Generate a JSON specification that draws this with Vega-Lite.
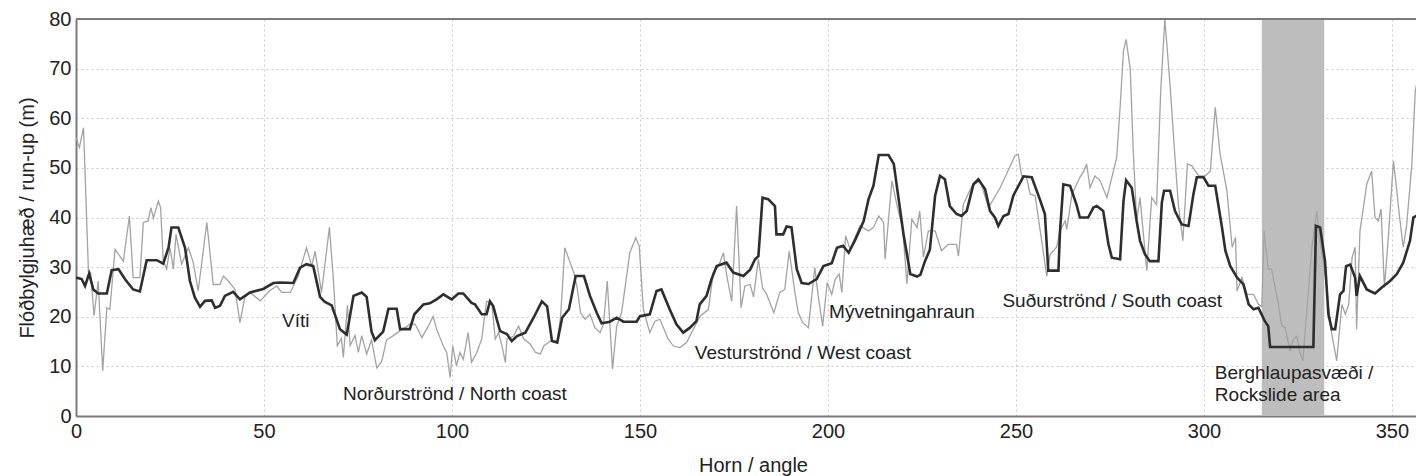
{
  "$schema": "https://vega.github.io/schema/vega-lite/v6.json",
  "width": 1340,
  "height": 397,
  "autosize": {"type": "none"},
  "padding": {"left": 76, "top": 19, "right": 0, "bottom": 60},
  "background": "white",
  "config": {
    "view": {"stroke": null},
    "font": "Liberation Sans",
    "axis": {
      "labelFont": "Liberation Sans",
      "titleFont": "Liberation Sans",
      "labelFontSize": 20,
      "titleFontSize": 20,
      "titleFontWeight": "normal",
      "labelColor": "#222",
      "titleColor": "#222",
      "domainColor": "#7a7a7a",
      "domainWidth": 2,
      "ticks": false,
      "grid": true,
      "gridColor": "#c8c8c8",
      "gridDash": [2, 3],
      "gridWidth": 1
    }
  },
  "datasets": {
    "smooth": [
      {"a":0,"v":27.9},{"a":1.5,"v":27.6},{"a":2.4,"v":26.2},{"a":3.5,"v":28.7},{"a":4.6,"v":25.5},{"a":5.9,"v":24.7},{"a":8.2,"v":24.7},{"a":9.5,"v":29.4},{"a":11.3,"v":29.6},{"a":13,"v":27.6},{"a":15.2,"v":25.5},{"a":17,"v":25.1},{"a":18.8,"v":31.4},{"a":21.5,"v":31.4},{"a":23.2,"v":30.7},{"a":24.6,"v":33.9},{"a":25.4,"v":38},{"a":27.2,"v":38},{"a":29,"v":33.9},{"a":30.3,"v":27.2},{"a":31.6,"v":23.9},{"a":33,"v":22},{"a":34.3,"v":23.2},{"a":36.1,"v":23.3},{"a":37,"v":21.8},{"a":38.3,"v":22.2},{"a":39.6,"v":24.2},{"a":41.8,"v":25},{"a":43.6,"v":23.5},{"a":46.3,"v":24.9},{"a":49.8,"v":25.6},{"a":52.5,"v":26.8},{"a":54.2,"v":26.9},{"a":57.8,"v":26.8},{"a":59.6,"v":29.9},{"a":61.3,"v":30.6},{"a":63.1,"v":30.2},{"a":64.9,"v":24},{"a":66.2,"v":23},{"a":68,"v":22.3},{"a":70.2,"v":17.5},{"a":72,"v":16.4},{"a":73.8,"v":24.2},{"a":76,"v":24.9},{"a":77.3,"v":24},{"a":78.6,"v":17},{"a":79.5,"v":15.3},{"a":81.7,"v":17},{"a":83.1,"v":21.6},{"a":85.3,"v":21.6},{"a":86.2,"v":17.5},{"a":88.8,"v":17.5},{"a":90,"v":20.5},{"a":92.4,"v":22.5},{"a":94.1,"v":22.7},{"a":95.9,"v":23.5},{"a":97.7,"v":24.5},{"a":99.9,"v":23.5},{"a":101.7,"v":24.7},{"a":103,"v":24.7},{"a":105.2,"v":22.8},{"a":106.1,"v":22.5},{"a":107.9,"v":20.5},{"a":109.2,"v":20.5},{"a":110.1,"v":23.1},{"a":111,"v":22.1},{"a":111.9,"v":19.5},{"a":112.8,"v":17.1},{"a":114.6,"v":16.5},{"a":115.9,"v":15.1},{"a":117.3,"v":16.1},{"a":119.5,"v":16.8},{"a":121.7,"v":19.8},{"a":123.9,"v":23.1},{"a":125.3,"v":22.1},{"a":126.6,"v":15.1},{"a":128,"v":14.8},{"a":129.3,"v":19.8},{"a":131.1,"v":21.5},{"a":132.9,"v":28.2},{"a":135.1,"v":28.2},{"a":136.7,"v":24.2},{"a":138.5,"v":20.8},{"a":139.8,"v":18.7},{"a":142,"v":19},{"a":143.8,"v":19.8},{"a":145.6,"v":19},{"a":149.1,"v":19},{"a":150,"v":20.1},{"a":152.6,"v":20.5},{"a":154.4,"v":25.2},{"a":155.7,"v":25.5},{"a":157.9,"v":21.5},{"a":159.7,"v":18.5},{"a":161.5,"v":16.8},{"a":163.3,"v":17.8},{"a":165,"v":19.1},{"a":165.9,"v":22.5},{"a":167.7,"v":24.2},{"a":169,"v":27.5},{"a":170.4,"v":30.2},{"a":173,"v":30.9},{"a":174.8,"v":28.9},{"a":177.5,"v":28.2},{"a":179.3,"v":29.5},{"a":180.6,"v":31.6},{"a":181.5,"v":32.2},{"a":182.6,"v":44},{"a":184.1,"v":43.7},{"a":185.9,"v":42.3},{"a":186.3,"v":36.6},{"a":188.1,"v":36.6},{"a":189,"v":38.2},{"a":190.3,"v":38},{"a":191.7,"v":29.6},{"a":193,"v":26.8},{"a":194.8,"v":26.6},{"a":197,"v":27.6},{"a":198.8,"v":30.2},{"a":201,"v":30.8},{"a":202.4,"v":33.9},{"a":204,"v":34.3},{"a":205.5,"v":32.9},{"a":207.3,"v":35.6},{"a":209.5,"v":39.3},{"a":210.8,"v":43.7},{"a":212.1,"v":46.4},{"a":213.5,"v":52.6},{"a":216.1,"v":52.6},{"a":217.5,"v":50.8},{"a":218.8,"v":43.7},{"a":220.1,"v":36.6},{"a":221.9,"v":28.6},{"a":223.7,"v":28.1},{"a":224.6,"v":28.5},{"a":225.8,"v":31.2},{"a":227.1,"v":33.5},{"a":228.5,"v":44.4},{"a":229.8,"v":48.4},{"a":231.1,"v":47.7},{"a":232.4,"v":42.3},{"a":234.2,"v":40.7},{"a":235.5,"v":40.3},{"a":236.9,"v":41.3},{"a":238.7,"v":46.7},{"a":240,"v":47.7},{"a":241.8,"v":45.7},{"a":243.1,"v":41.3},{"a":244.4,"v":40},{"a":245.3,"v":38.3},{"a":246.7,"v":40.3},{"a":248,"v":40.7},{"a":249.3,"v":44.4},{"a":252,"v":48.3},{"a":254.2,"v":48.1},{"a":256,"v":44.4},{"a":257.7,"v":40.7},{"a":258.6,"v":29.3},{"a":261.3,"v":29.3},{"a":261.7,"v":37},{"a":262.6,"v":46.7},{"a":264.4,"v":46.4},{"a":266.1,"v":42.6},{"a":267,"v":40},{"a":269.2,"v":40},{"a":270.6,"v":42},{"a":271.5,"v":42.3},{"a":273.2,"v":41.3},{"a":274.6,"v":34.6},{"a":275.5,"v":31.9},{"a":277.7,"v":31.6},{"a":278.6,"v":43.3},{"a":279.3,"v":47.5},{"a":280.8,"v":46},{"a":282.1,"v":39.3},{"a":283,"v":35.3},{"a":284.3,"v":32.6},{"a":285.6,"v":31.2},{"a":287.9,"v":31.2},{"a":288.8,"v":43},{"a":289.4,"v":45.4},{"a":291,"v":45.4},{"a":292.3,"v":41.3},{"a":294.1,"v":38.6},{"a":295.9,"v":38.3},{"a":297.2,"v":44.7},{"a":298.1,"v":48.1},{"a":299.9,"v":48.1},{"a":301.2,"v":46.4},{"a":303,"v":46.4},{"a":304.8,"v":38},{"a":305.7,"v":33.3},{"a":307,"v":30.2},{"a":308.8,"v":27.9},{"a":310.5,"v":26.5},{"a":311.9,"v":22.5},{"a":313.2,"v":21.5},{"a":314.5,"v":21.8},{"a":316.2,"v":19.1},{"a":317.1,"v":18.1},{"a":317.6,"v":13.9},{"a":329.1,"v":13.9},{"a":329.8,"v":38.3},{"a":330.9,"v":38},{"a":332.2,"v":31.2},{"a":333.1,"v":20.5},{"a":334,"v":17.5},{"a":334.9,"v":17.5},{"a":336.2,"v":24.5},{"a":337.1,"v":25.2},{"a":337.8,"v":30.2},{"a":338.9,"v":30.5},{"a":340.2,"v":27.9},{"a":340.6,"v":24.2},{"a":341.5,"v":28.2},{"a":343.3,"v":25.5},{"a":345.5,"v":24.7},{"a":347.3,"v":25.9},{"a":349.5,"v":27.2},{"a":351.3,"v":28.6},{"a":353,"v":30.9},{"a":354.8,"v":35.3},{"a":355.7,"v":40},{"a":356.4,"v":40.3},{"a":360,"v":40.5}
    ],
    "raw": [
      {"a":0,"v":56.1},{"a":0.9,"v":54.1},{"a":2,"v":58.1},{"a":3.3,"v":29.2},{"a":3.9,"v":28.9},{"a":4.8,"v":20.2},{"a":5.9,"v":27.2},{"a":7.1,"v":9.1},{"a":8.2,"v":21.8},{"a":9,"v":21.5},{"a":10.4,"v":33.6},{"a":12.6,"v":31.2},{"a":14.2,"v":40.3},{"a":15.2,"v":27.9},{"a":17,"v":27.9},{"a":17.9,"v":39},{"a":19.2,"v":39.3},{"a":19.9,"v":42},{"a":20.6,"v":39.9},{"a":21.9,"v":43.3},{"a":22.5,"v":42},{"a":23.2,"v":31.3},{"a":24.1,"v":29.6},{"a":25,"v":33.9},{"a":25.9,"v":29.6},{"a":26.6,"v":36.6},{"a":28.1,"v":30.6},{"a":29.9,"v":33.9},{"a":31.2,"v":30.9},{"a":32.5,"v":25.2},{"a":34.8,"v":39},{"a":36.5,"v":26.5},{"a":38.3,"v":26.5},{"a":39.2,"v":28.2},{"a":40.5,"v":27.2},{"a":42.3,"v":25.5},{"a":43.6,"v":18.8},{"a":44.9,"v":23.9},{"a":46.3,"v":24.9},{"a":49,"v":23.2},{"a":51.6,"v":25.3},{"a":53.4,"v":26.2},{"a":54.7,"v":24.9},{"a":57,"v":24.9},{"a":59.1,"v":28.2},{"a":61.3,"v":33.9},{"a":62.7,"v":30.2},{"a":63.6,"v":33.2},{"a":65.3,"v":24.9},{"a":67.4,"v":38},{"a":68.4,"v":28.2},{"a":69.5,"v":14.2},{"a":70.6,"v":15.6},{"a":71.1,"v":11.8},{"a":72.2,"v":22.3},{"a":72.9,"v":14.2},{"a":74.2,"v":16.2},{"a":75.1,"v":12.8},{"a":76,"v":16.2},{"a":77.3,"v":12.5},{"a":78.6,"v":15.3},{"a":80,"v":9.7},{"a":81.3,"v":11},{"a":82.6,"v":15.3},{"a":84.4,"v":16.2},{"a":86.2,"v":17.2},{"a":87.5,"v":17.8},{"a":88.8,"v":18.5},{"a":90.2,"v":18.5},{"a":92,"v":15.8},{"a":93.7,"v":18.1},{"a":95,"v":20.1},{"a":95.9,"v":17.5},{"a":97.7,"v":14.1},{"a":98.6,"v":12.8},{"a":99.5,"v":7.8},{"a":100.2,"v":14.1},{"a":101.2,"v":10.1},{"a":102.1,"v":12.8},{"a":103,"v":11.4},{"a":104.3,"v":16.8},{"a":105.2,"v":10.8},{"a":106.6,"v":12.8},{"a":107.9,"v":15.5},{"a":109.2,"v":23.1},{"a":110.6,"v":22.8},{"a":111.5,"v":15.5},{"a":112.4,"v":16.8},{"a":113.3,"v":14.1},{"a":114.2,"v":10.8},{"a":114.6,"v":15.5},{"a":116.4,"v":16.1},{"a":117.7,"v":18.1},{"a":119.1,"v":15.5},{"a":120.8,"v":14.5},{"a":122.2,"v":12.8},{"a":123.5,"v":12.5},{"a":124.4,"v":14.1},{"a":126.2,"v":15.1},{"a":128,"v":15.1},{"a":128.9,"v":20.1},{"a":130,"v":33.9},{"a":132.4,"v":28.9},{"a":133.3,"v":25.8},{"a":134.2,"v":20.8},{"a":135.4,"v":19.5},{"a":136.7,"v":20.5},{"a":138,"v":17.8},{"a":139.4,"v":16.8},{"a":140.3,"v":18.5},{"a":141.3,"v":27.2},{"a":142.7,"v":9.5},{"a":143.8,"v":18.1},{"a":145.1,"v":20.8},{"a":147.3,"v":32.9},{"a":148.9,"v":35.9},{"a":149.8,"v":34.2},{"a":150.9,"v":21.5},{"a":152.6,"v":16.8},{"a":154,"v":19.1},{"a":155.3,"v":19.5},{"a":157.5,"v":15.5},{"a":158.9,"v":14.1},{"a":160.6,"v":13.8},{"a":162.4,"v":14.8},{"a":164.2,"v":17.5},{"a":166,"v":20.1},{"a":168.2,"v":21.5},{"a":169.5,"v":28.9},{"a":170.9,"v":30.2},{"a":172.2,"v":32.9},{"a":173.1,"v":28.2},{"a":174.4,"v":23.1},{"a":175.7,"v":42.3},{"a":176.9,"v":21.8},{"a":177.9,"v":26.2},{"a":179.3,"v":26.5},{"a":180.2,"v":24},{"a":181.5,"v":31.6},{"a":182.6,"v":25.8},{"a":183.7,"v":24.5},{"a":185.6,"v":20.8},{"a":187.2,"v":24.9},{"a":188.5,"v":25.5},{"a":189.7,"v":33.2},{"a":191.2,"v":24.9},{"a":192.1,"v":20.8},{"a":193.3,"v":18.8},{"a":194.8,"v":17.8},{"a":195.7,"v":24.2},{"a":196.5,"v":29.9},{"a":197.4,"v":24.2},{"a":198.6,"v":18.1},{"a":199.8,"v":26.9},{"a":201,"v":24.5},{"a":201.9,"v":27.5},{"a":203,"v":28.6},{"a":203.7,"v":24.9},{"a":204.7,"v":36.3},{"a":205.9,"v":33.6},{"a":208.5,"v":38.3},{"a":210.8,"v":37.3},{"a":212.1,"v":38},{"a":213.5,"v":40.3},{"a":214.8,"v":39},{"a":215.2,"v":31.6},{"a":217,"v":47.4},{"a":218.4,"v":42.3},{"a":219.9,"v":37.6},{"a":221,"v":26.6},{"a":222.3,"v":39.6},{"a":223.7,"v":38},{"a":224.4,"v":41.3},{"a":225.4,"v":32},{"a":226.7,"v":37.3},{"a":228.5,"v":37.3},{"a":230.2,"v":33.3},{"a":232,"v":34.6},{"a":234.2,"v":34.6},{"a":234.7,"v":32.2},{"a":236,"v":42.6},{"a":238.3,"v":46.4},{"a":240.5,"v":47.4},{"a":242.7,"v":42},{"a":245.8,"v":46},{"a":249.7,"v":52.4},{"a":250.6,"v":52.8},{"a":251.5,"v":48.4},{"a":252.8,"v":48.1},{"a":253.8,"v":44.7},{"a":255.1,"v":44.4},{"a":258.2,"v":28.2},{"a":259.1,"v":32.6},{"a":260.8,"v":34},{"a":261.7,"v":37.3},{"a":263.1,"v":39.3},{"a":263.5,"v":37.6},{"a":264.9,"v":44.7},{"a":267,"v":48.1},{"a":268.1,"v":49.4},{"a":268.8,"v":50.8},{"a":269.7,"v":46},{"a":271,"v":48.4},{"a":272.4,"v":47.4},{"a":274.2,"v":44},{"a":276.8,"v":52.1},{"a":277.7,"v":62.2},{"a":278.6,"v":73.6},{"a":279.3,"v":75.9},{"a":280.4,"v":69.9},{"a":281.2,"v":53.4},{"a":282.1,"v":39.3},{"a":283,"v":44},{"a":283.9,"v":36.6},{"a":284.8,"v":29.3},{"a":286.1,"v":44},{"a":287.4,"v":42.6},{"a":288.5,"v":65.5},{"a":289.6,"v":80},{"a":291,"v":66.5},{"a":292.3,"v":52.1},{"a":293.2,"v":42.6},{"a":294.4,"v":35.3},{"a":295.6,"v":50.8},{"a":296.8,"v":50.4},{"a":298.6,"v":48.4},{"a":300.4,"v":48.4},{"a":301.7,"v":49.4},{"a":303,"v":62.2},{"a":304.3,"v":52.8},{"a":306.1,"v":45.4},{"a":307.5,"v":34},{"a":308.4,"v":36},{"a":308.8,"v":25.2},{"a":310.1,"v":27.9},{"a":311.5,"v":24.5},{"a":313.2,"v":24.5},{"a":314.5,"v":22.5},{"a":315.4,"v":22},{"a":316,"v":37.3},{"a":317.1,"v":29.6},{"a":318,"v":29.6},{"a":319.8,"v":22.5},{"a":320.7,"v":18.1},{"a":321.6,"v":17.8},{"a":322.9,"v":13.1},{"a":323.8,"v":15.4},{"a":324.7,"v":16.1},{"a":325.5,"v":12.8},{"a":326.3,"v":11.1},{"a":327.3,"v":20.5},{"a":328.7,"v":34},{"a":330,"v":41.3},{"a":330.9,"v":35.3},{"a":332.2,"v":28.6},{"a":334,"v":16.5},{"a":335.3,"v":11.1},{"a":336.7,"v":22.5},{"a":337.6,"v":20.5},{"a":338.5,"v":22.5},{"a":339.4,"v":31.9},{"a":340.2,"v":34},{"a":340.6,"v":17.5},{"a":341.5,"v":37.3},{"a":342.4,"v":42},{"a":343.3,"v":46.7},{"a":344.6,"v":49.4},{"a":345.5,"v":40},{"a":346.4,"v":39.3},{"a":347.1,"v":41.7},{"a":348,"v":25.9},{"a":349.1,"v":36.6},{"a":350.4,"v":51.4},{"a":351.3,"v":45.4},{"a":352,"v":40.3},{"a":353,"v":34},{"a":353.9,"v":38.3},{"a":355.3,"v":50.8},{"a":356.2,"v":65.5},{"a":358,"v":72}
    ],
    "labels": [
      {"a":54.8,"v":19.1,"t":"Víti"},
      {"a":71,"v":4.4,"t":"Norðurströnd / North coast"},
      {"a":164.6,"v":12.6,"t":"Vesturströnd / West coast"},
      {"a":200.3,"v":21.0,"t":"Mývetningahraun"},
      {"a":246.4,"v":23.2,"t":"Suðurströnd / South coast"},
      {"a":302.9,"v":8.7,"t":"Berghlaupasvæði /"},
      {"a":302.9,"v":4.2,"t":"Rockslide area"}
    ],
    "zone": [{"a0":315.4,"a1":332}]
  },
  "layer": [
    {
      "data": {"name": "zone"},
      "mark": {"type": "rect", "color": "#bdbdbd", "clip": true},
      "encoding": {
        "x": {"field": "a0", "type": "quantitative",
              "scale": {"domain": [0, 356.4], "nice": false, "zero": false},
              "axis": {"values": [0,50,100,150,200,250,300,350], "title": "Horn / angle",
                       "labelPadding": 5, "titlePadding": 14, "titleX": 677, "labelFlush": false}},
        "x2": {"field": "a1"},
        "y": {"datum": 0, "type": "quantitative",
              "scale": {"domain": [0, 80], "nice": false},
              "axis": {"values": [0,10,20,30,40,50,60,70,80], "title": "Flóðbylgjuhæð / run-up (m)",
                       "labelPadding": 5, "titlePadding": 11, "labelFlush": false}},
        "y2": {"datum": 80}
      }
    },
    {
      "data": {"name": "raw"},
      "mark": {"type": "line", "color": "#a3a3a3", "strokeWidth": 1.3, "clip": true},
      "encoding": {
        "x": {"field": "a", "type": "quantitative"},
        "y": {"field": "v", "type": "quantitative"}
      }
    },
    {
      "data": {"name": "smooth"},
      "mark": {"type": "line", "color": "#2e2e2e", "strokeWidth": 2.6, "clip": true},
      "encoding": {
        "x": {"field": "a", "type": "quantitative"},
        "y": {"field": "v", "type": "quantitative"}
      }
    },
    {
      "data": {"values": [{"top": 80}]},
      "mark": {"type": "rule", "color": "#7a7a7a", "strokeWidth": 2},
      "encoding": {
        "y": {"field": "top", "type": "quantitative"}
      }
    },
    {
      "data": {"name": "labels"},
      "mark": {"type": "text", "align": "left", "baseline": "middle", "font": "Liberation Sans", "fontSize": 19, "color": "#222"},
      "encoding": {
        "x": {"field": "a", "type": "quantitative"},
        "y": {"field": "v", "type": "quantitative"},
        "text": {"field": "t"}
      }
    }
  ]
}
